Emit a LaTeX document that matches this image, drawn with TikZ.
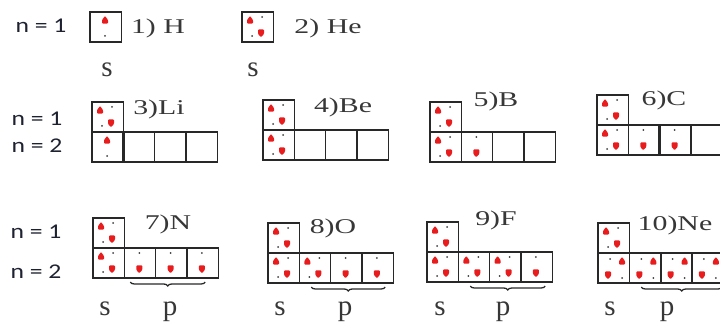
\documentclass[tikz,border=0pt]{standalone}
\usepackage{fontspec}
\newfontfamily\calibrifont{Carlito}
\newfontfamily\cambriafont{Liberation Serif}
\definecolor{BoxGray}{RGB}{40,40,40}
\definecolor{LabelGray}{RGB}{55,55,55}
\definecolor{ShellInk}{RGB}{30,34,48}
\definecolor{SpinRed}{RGB}{232,28,28}
\definecolor{TailGray}{RGB}{60,60,60}
\usetikzlibrary{calc, decorations.pathreplacing}

\tikzset{
  orb/.style={draw=BoxGray, line width=1.3pt, minimum width=31.3pt, minimum height=30pt, inner sep=0pt, outer sep=0pt},
  divider/.style={draw=BoxGray, line width=2.4pt},
  elabel/.style={text=LabelGray, font=\cambriafont\fontsize{21}{23}\selectfont, inner sep=0pt},
  shelllabel/.style={text=ShellInk, font=\calibrifont\fontsize{21}{23}\selectfont, inner sep=0pt},
  sublabel/.style={text=LabelGray, font=\cambriafont\fontsize{29}{31}\selectfont, inner sep=0pt, anchor=base},
  pbrace/.style={decorate, decoration={brace, mirror, amplitude=4pt}, draw=BoxGray, line width=1.3pt},
  pics/upblob/.style={code={
    \fill[SpinRed, rounded corners=0.9pt] (-3,3.6) -- (-3,0) -- (0,-4) -- (3,0) -- (3,3.6) -- cycle;}},
  pics/downblob/.style={code={
    \fill[SpinRed, rounded corners=0.9pt] (-3,-3.6) -- (3,-3.6) -- (3,1) -- (0,4.2) -- (-3,1) -- cycle;}},
  pics/tail/.style={code={\fill[TailGray] (0,0) circle (1pt);}},
  pics/pairstd/.style={code={
    \pic at (8,8) {upblob}; \pic at (20,5) {tail};
    \pic at (10,24) {tail}; \pic at (19,21) {downblob};}},
  pics/pairne/.style={code={
    \pic at (12,6) {tail}; \pic at (24,8) {upblob};
    \pic at (10,22) {downblob}; \pic at (24,25) {tail};}},
  pics/singleup/.style={code={\pic at (15,8) {upblob}; \pic at (15,24) {tail};}},
  pics/singledown/.style={code={\pic at (15,5) {tail}; \pic at (15,21) {downblob};}}
}
\newcommand{\wide}[1]{\scalebox{1.42}[1]{#1}}

\begin{document}
\begin{tikzpicture}[x=1pt,y=-1pt]
  \useasboundingbox (0,0) rectangle (720,323);

  % shell labels
  \node[shelllabel] (row1n1) at (41,26) {\scalebox{1.22}[1]{n = 1}};
  \node[shelllabel] (row2n1) at (37,119) {\scalebox{1.22}[1]{n = 1}};
  \node[shelllabel] (row2n2) at (37,146) {\scalebox{1.22}[1]{n = 2}};
  \node[shelllabel] (row3n1) at (36,232) {\scalebox{1.22}[1]{n = 1}};
  \node[shelllabel] (row3n2) at (36,272) {\scalebox{1.22}[1]{n = 2}};

  % 1) H and 2) He
  \node[orb, anchor=north west] (h1s) at (90,12) {};
  \node[orb, anchor=north west] (he1s) at (242,12) {};

  % Li ... Ne : 1s on top, 2s and 2p below
  \foreach \el/\x/\y in {li/92/102, be/263/100, b/430/102, c/597/95,
                         n/93/218, o/268/223, f/427/222, ne/598/223}
  {
    \begin{scope}[shift={(\x,\y)}]
      \node[orb, anchor=north west] (\el1s) at (0,0) {};
      \node[orb, anchor=north west] (\el2s) at (0,30) {};
      \foreach \i in {1,2,3}
        \node[orb, anchor=north west] (\el2p\i) at (31.3*\i,30) {};
    \end{scope}
  }
  \foreach \b in {li2p1, b2p3, c2p2, n2p3, o2p3}
    \draw[divider] (\b.north west) -- (\b.south west);
  \draw[BoxGray, line width=2pt] (ne2p2.north west) rectangle (ne2p2.south east);

  % electrons
  \foreach \b in {he1s, li1s, be1s, be2s, b1s, b2s, c1s, c2s, n1s, n2s,
                  o1s, o2s, o2p1, f1s, f2s, f2p1, f2p2, ne1s}
    \pic at (\b.north west) {pairstd};
  \foreach \b in {h1s, li2s}
    \pic at (\b.north west) {singleup};
  \foreach \b in {b2p1, c2p1, c2p2, n2p1, n2p2, n2p3, o2p2, o2p3, f2p3}
    \pic at (\b.north west) {singledown};
  \foreach \b in {ne2s, ne2p1, ne2p2, ne2p3}
    \pic at (\b.north west) {pairne};

  % element names
  \node[elabel] (hlab) at (158,28) {\wide{1) H}};
  \node[elabel] (helab) at (328,28) {\wide{2) He}};
  \node[elabel] (lilab) at (159,109) {\wide{3)Li}};
  \node[elabel] (belab) at (343,107) {\wide{4)Be}};
  \node[elabel] (blab) at (496,101) {\wide{5)B}};
  \node[elabel] (clab) at (664,100) {\wide{6)C}};
  \node[elabel] (nlab) at (168,224) {\wide{7)N}};
  \node[elabel] (olab) at (333,228) {\wide{8)O}};
  \node[elabel] (flab) at (496,220) {\wide{9)F}};
  \node[elabel] (nelab) at (675,225) {\wide{10)Ne}};

  % p braces
  \draw[pbrace] ([xshift=6pt,yshift=-4pt]n2p1.south west) -- ([xshift=-13pt,yshift=-4pt]n2p3.south east);
  \draw[pbrace] ([xshift=12pt,yshift=-4pt]o2p1.south west) -- ([xshift=-8pt,yshift=-4pt]o2p3.south east);
  \draw[pbrace] ([xshift=12pt,yshift=-4pt]f2p1.south west) -- ([xshift=-7pt,yshift=-4pt]f2p3.south east);
  \draw[pbrace] ([xshift=12pt,yshift=-4pt]ne2p1.south west) -- ([xshift=-1pt,yshift=-4pt]ne2p3.south east);

  % subshell letters
  \node[sublabel] (hs) at (107,77) {s};
  \node[sublabel] (hes) at (253,77) {s};
  \node[sublabel] (ns) at (105,315) {s};
  \node[sublabel] (np) at (170,315) {p};
  \node[sublabel] (os) at (280,315) {s};
  \node[sublabel] (op) at (345,315) {p};
  \node[sublabel] (fs) at (440,315) {s};
  \node[sublabel] (fp) at (503,315) {p};
  \node[sublabel] (nes) at (610,315) {s};
  \node[sublabel] (nep) at (667,315) {p};
\end{tikzpicture}
\end{document}
